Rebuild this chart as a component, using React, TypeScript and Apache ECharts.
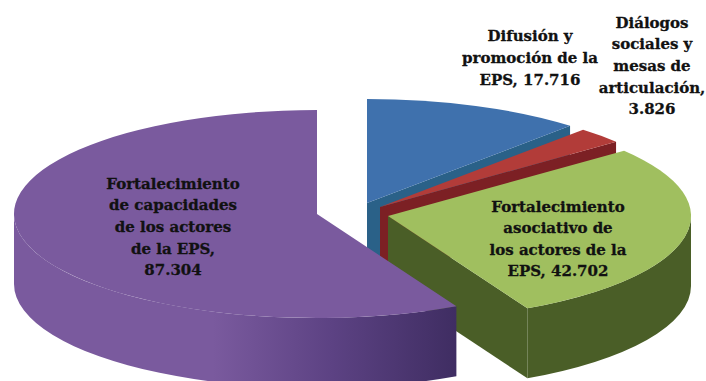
import React, { useEffect, useRef } from "react";
import * as echarts from "echarts";

// Spending lines and their amounts, clockwise from twelve o'clock.
const categories = [
  "Difusión y\npromoción de la\nEPS, ",
  "Diálogos\nsociales y\nmesas de\narticulación,\n",
  "Fortalecimiento\nasociativo de\nlos actores de la\nEPS, ",
  "Fortalecimiento\nde capacidades\nde los actores\nde la EPS,\n",
];
const values = [17.716, 3.826, 42.702, 87.304];

// Tilted-disc projection: ellipse radii and extrusion height.
const RX = 303;
const RY = 104;
const DEPTH = 70;

// Where each exploded wedge has its tip, and where its caption sits.
const tips = [
  [367, 203],
  [380, 207],
  [388, 216],
  [317, 214],
];
const captionCentres = [
  [530, 58],
  [652, 66],
  [558, 239],
  [173, 227],
];

const topColors = ["#3f71ad", "#b23c39", "#a0bf5f", "#7a5a9e"];
const cutColors = ["#2a6188", "#7c2024", "#4a5e27", "#4a5e27"];
const sideFills: any[] = [
  "#2a6188",
  "#7c2024",
  "#4a5e27",
  {
    type: "linear", x: 0, y: 0, x2: 1, y2: 0,
    colorStops: [
      { offset: 0, color: "#7a5a9e" },
      { offset: 0.45, color: "#7a5a9e" },
      { offset: 0.72, color: "#5c4283" },
      { offset: 1, color: "#3f2d62" },
    ],
  },
];

const total = values.reduce((a, b) => a + b, 0);

function rim(tip: number[], deg: number, drop = 0) {
  const t = (deg * Math.PI) / 180;
  return [tip[0] + RX * Math.sin(t), tip[1] - RY * Math.cos(t) + drop];
}
const pt = (p: number[]) => `${p[0].toFixed(2)} ${p[1].toFixed(2)}`;

function quad(a: number[], b: number[]) {
  return `M${pt(a)}L${pt(b)}L${pt([b[0], b[1] + DEPTH])}L${pt([a[0], a[1] + DEPTH])}Z`;
}

function renderSlice(params: any, api: any) {
  const i = params.dataIndex;
  const before = values.slice(0, i).reduce((a, b) => a + b, 0);
  const from = (before / total) * 360;
  const to = from + (api.value(0) / total) * 360;
  const tip = tips[i];
  const children: any[] = [];

  // Cut faces that turn towards the viewer.
  const cut = (d: string) =>
    children.push({ type: "path", shape: { pathData: d }, style: { fill: cutColors[i] }, silent: true });
  if (to < 180) cut(quad(tip, rim(tip, to)));
  if (from > 90 && from < 270 && i < 3) cut(quad(tip, rim(tip, from)));

  // Curved wall along the near half of the rim.
  const a = Math.max(from, 90);
  const b = Math.min(to, 270);
  if (b > a) {
    const large = b - a > 180 ? 1 : 0;
    children.push({
      type: "path",
      shape: {
        pathData:
          `M${pt(rim(tip, a))}A${RX} ${RY} 0 ${large} 1 ${pt(rim(tip, b))}` +
          `L${pt(rim(tip, b, DEPTH))}A${RX} ${RY} 0 ${large} 0 ${pt(rim(tip, a, DEPTH))}Z`,
      },
      style: { fill: sideFills[i] },
      silent: true,
    });
  }

  // Top face.
  const large = to - from > 180 ? 1 : 0;
  children.push({
    type: "path",
    shape: {
      pathData: `M${pt(tip)}L${pt(rim(tip, from))}A${RX} ${RY} 0 ${large} 1 ${pt(rim(tip, to))}Z`,
    },
    style: { fill: topColors[i] },
    silent: true,
  });
  return { type: "group", children };
}

function renderCaption(params: any, api: any) {
  const i = params.dataIndex;
  return {
    type: "text",
    x: captionCentres[i][0],
    y: captionCentres[i][1],
    silent: true,
    style: {
      text: categories[i] + api.value(0).toFixed(3),
      fill: "#111111",
      stroke: "#111111",
      lineWidth: 0.3,
      font: 'bold 15px "DejaVu Serif"',
      lineHeight: 21.6,
      align: "center",
      verticalAlign: "middle",
    },
  };
}

export default function App() {
  const ref = useRef<HTMLDivElement>(null);
  useEffect(() => {
    const chart = echarts.init(ref.current!, null, { renderer: "svg" });
    chart.setOption({
      animation: false,
      backgroundColor: "#ffffff",
      series: [
        { type: "custom", coordinateSystem: "none", data: values, renderItem: renderSlice, z: 1 },
        { type: "custom", coordinateSystem: "none", data: values, renderItem: renderCaption, z: 2 },
      ],
    });
    return () => chart.dispose();
  }, []);
  return <div ref={ref} style={{ position: "absolute", left: 0, top: 0, width: 706, height: 381 }} />;
}
